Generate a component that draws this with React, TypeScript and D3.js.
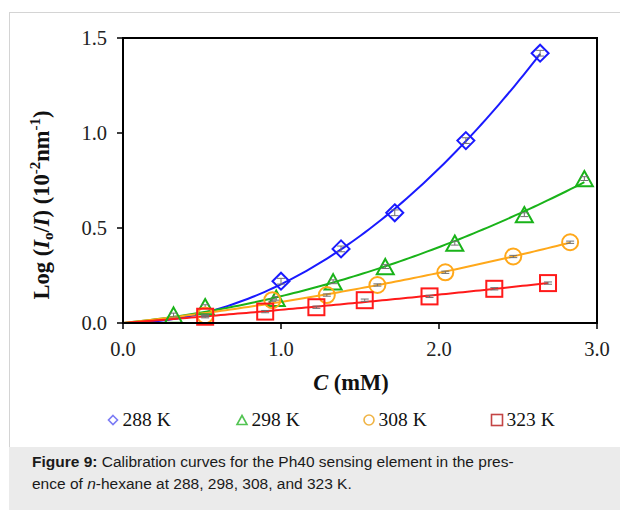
import React from "react";
import * as d3 from "d3";

// ---- data ----
const C288 = [1.0, 1.38, 1.72, 2.17, 2.64];
const V288 = [0.22, 0.39, 0.58, 0.96, 1.42];
const C298 = [0.32, 0.52, 0.97, 1.33, 1.66, 2.1, 2.54, 2.92];
const V298 = [0.042, 0.086, 0.13, 0.217, 0.297, 0.42, 0.57, 0.76];
const C308 = [0.52, 0.945, 1.29, 1.61, 2.04, 2.47, 2.83];
const V308 = [0.04, 0.12, 0.147, 0.2, 0.267, 0.35, 0.425];
const C323 = [0.52, 0.9, 1.224, 1.53, 1.94, 2.35, 2.69];
const V323 = [0.033, 0.06, 0.083, 0.12, 0.14, 0.18, 0.21];
const ERR = [0.015, 0.01, 0.006, 0.006];
const LABELS = ["288 K", "298 K", "308 K", "323 K"];
const X_TICKS = [0, 1, 2, 3];
const Y_TICKS = [0, 0.5, 1.0, 1.5];

const COLORS = ["#1a1aff", "#19b319", "#ffa81a", "#ff1a1a"];
const LEGEND_COLORS = ["#7b7bf5", "#52c452", "#f0b445", "#c44545"];
const SHAPES = ["diamond", "triangle", "circle", "square"];

const series = [
  { c: C288, v: V288 },
  { c: C298, v: V298 },
  { c: C308, v: V308 },
  { c: C323, v: V323 },
];

// quadratic least-squares fit through origin (trendline)
function fit(c: number[], v: number[]) {
  let s4 = 0, s3 = 0, s2 = 0, s2y = 0, s1y = 0;
  c.forEach((x, i) => {
    s4 += x ** 4; s3 += x ** 3; s2 += x ** 2;
    s2y += x * x * v[i]; s1y += x * v[i];
  });
  const det = s4 * s2 - s3 * s3;
  const a = (s2y * s2 - s3 * s1y) / det;
  const b = (s4 * s1y - s3 * s2y) / det;
  return (x: number) => a * x * x + b * x;
}

const SERIF = "'Liberation Serif', 'Times New Roman', serif";
const SANS = "'Liberation Sans', Arial, sans-serif";

function Marker({ shape, x, y, color, size, sw }: any) {
  const h = size / 2;
  if (shape === "diamond")
    return <path d={`M${x},${y - h}L${x + h},${y}L${x},${y + h}L${x - h},${y}Z`} fill="none" stroke={color} strokeWidth={sw} />;
  if (shape === "triangle") {
    const hh = h * 0.9;
    return <path d={`M${x},${y - hh}L${x + h},${y + hh}L${x - h},${y + hh}Z`} fill="none" stroke={color} strokeWidth={sw} strokeLinejoin="miter" />;
  }
  if (shape === "circle")
    return <circle cx={x} cy={y} r={h} fill="none" stroke={color} strokeWidth={sw} />;
  return <rect x={x - h} y={y - h} width={size} height={size} fill="none" stroke={color} strokeWidth={sw} />;
}

export default function App() {
  const left = 123, right = 597, top = 38, bottom = 323;
  const x = d3.scaleLinear().domain([0, 3]).range([left, right]);
  const y = d3.scaleLinear().domain([0, 1.5]).range([bottom, top]);

  const fits = series.map((s) => fit(s.c, s.v));
  const line = d3.line<[number, number]>().x((d) => x(d[0])).y((d) => y(d[1]));

  const markerSize = [17, 17, 16, 16];
  const legendX = [113, 242, 369, 497];
  const legendSize = [9, 10, 10, 11];

  return (
    <svg width={620} height={510} style={{ position: "absolute", left: 0, top: 0 }}>
      <rect x={0} y={0} width={620} height={510} fill="#fff" />
      {/* outer border */}
      <line x1={9.5} y1={12} x2={9.5} y2={447} stroke="#d4d4d4" />
      <line x1={9} y1={12.5} x2={620} y2={12.5} stroke="#d4d4d4" />
      {/* caption */}
      <rect x={9} y={447} width={611} height={63} fill="#ebebeb" />
      <text x={32} y={467} fontFamily={SANS} fontSize={15.5} fill="#1a1a1a">
        <tspan fontWeight="bold">Figure 9:</tspan> Calibration curves for the Ph40 sensing element in the pres-
      </text>
      <text x={32} y={489} fontFamily={SANS} fontSize={15.5} fill="#1a1a1a">
        ence of <tspan fontStyle="italic">n</tspan>-hexane at 288, 298, 308, and 323 K.
      </text>

      {/* fit lines */}
      {series.map((s, i) => {
        const maxC = d3.max(s.c) as number;
        const pts: [number, number][] = d3.range(0, 101).map((k) => {
          const cc = (maxC * k) / 100;
          return [cc, Math.max(fits[i](cc), 0)];
        });
        return <path key={"l" + i} d={line(pts) || ""} fill="none" stroke={COLORS[i]} strokeWidth={2} />;
      })}

      {/* markers + error bars */}
      {series.map((s, i) => (
        <g key={"m" + i}>
          {s.c.map((cc, j) => {
            const px = x(cc), py = y(s.v[j]);
            const e1 = y(s.v[j] + ERR[i]), e2 = y(s.v[j] - ERR[i]);
            return (
              <g key={j}>
                <Marker shape={SHAPES[i]} x={px} y={py} color={COLORS[i]} size={markerSize[i]} sw={2} />
                <g stroke="#707070" strokeWidth={1}>
                  <line x1={px} x2={px} y1={e1} y2={e2} />
                  <line x1={px - 4} x2={px + 4} y1={e1} y2={e1} />
                  <line x1={px - 4} x2={px + 4} y1={e2} y2={e2} />
                </g>
              </g>
            );
          })}
        </g>
      ))}

      {/* frame */}
      <rect x={left} y={top} width={right - left} height={bottom - top} fill="none" stroke="#000" strokeWidth={2} />
      {Y_TICKS.map((t) => (
        <g key={"y" + t}>
          <line x1={left - 6} x2={left} y1={y(t)} y2={y(t)} stroke="#000" strokeWidth={1.5} />
          <text x={107} y={y(t)} dy="0.33em" textAnchor="end" fontFamily={SERIF} fontSize={20.5} fill="#222">
            {t.toFixed(1)}
          </text>
        </g>
      ))}
      {X_TICKS.map((t) => (
        <g key={"x" + t}>
          <line x1={x(t)} x2={x(t)} y1={bottom} y2={bottom + 6} stroke="#000" strokeWidth={1.5} />
          <text x={x(t)} y={356} textAnchor="middle" fontFamily={SERIF} fontSize={20.5} fill="#222">
            {t.toFixed(1)}
          </text>
        </g>
      ))}

      {/* axis titles */}
      <text x={351} y={390} textAnchor="middle" fontFamily={SERIF} fontSize={22.5} fontWeight="bold" fill="#111">
        <tspan fontStyle="italic">C</tspan> (mM)
      </text>
      <text transform="translate(49,205) rotate(-90)" textAnchor="middle" fontFamily={SERIF} fontSize={22.5} fontWeight="bold" fill="#111">
        Log (<tspan fontStyle="italic">I</tspan>
        <tspan fontSize={15} dy={4}>o</tspan>
        <tspan dy={-4}>/</tspan>
        <tspan fontStyle="italic">I</tspan>) (10
        <tspan fontSize={15} dy={-9}>-2</tspan>
        <tspan dy={9}>nm</tspan>
        <tspan fontSize={15} dy={-9}>-1</tspan>
        <tspan dy={9}>)</tspan>
      </text>

      {/* legend */}
      {LABELS.map((lab, i) => (
        <g key={"lg" + i}>
          <Marker shape={SHAPES[i]} x={legendX[i]} y={420} color={LEGEND_COLORS[i]} size={legendSize[i]} sw={1.6} />
          <text x={legendX[i] + 9.5} y={426} fontFamily={SERIF} fontSize={19.5} fill="#111">
            {lab}
          </text>
        </g>
      ))}
    </svg>
  );
}
